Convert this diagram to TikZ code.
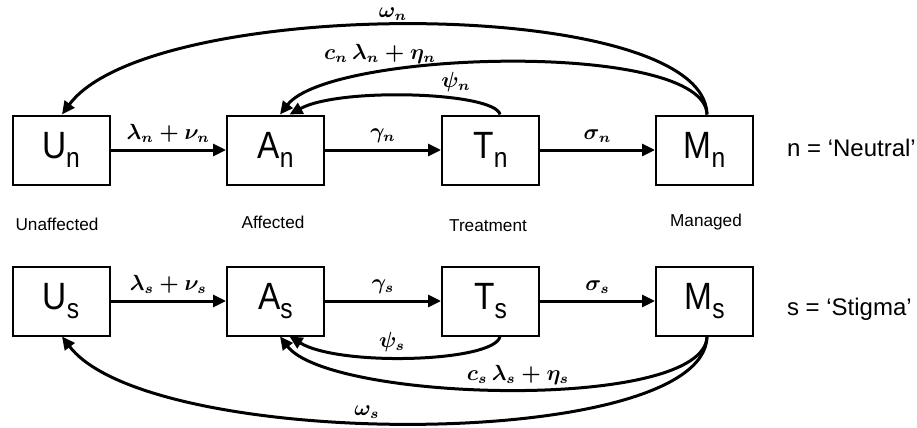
\documentclass[tikz,border=0pt]{standalone}
\usepackage{amsmath,amssymb}
\usepackage{graphicx}
\usepackage{fontspec}
\setmainfont{Liberation Sans}
\usepackage{tikz}
\usetikzlibrary{arrows.meta}
\usetikzlibrary{calc}

\newcommand{\compname}[2]{\scalebox{0.88}[1]{\fontsize{19}{21}\selectfont #1\raisebox{-4.5pt}{\fontsize{14}{16}\selectfont #2}}}

\begin{document}
\begin{tikzpicture}[x=0.5pt, y=-0.5pt,
    box/.style={draw, line width=1pt, minimum width=48.5pt, minimum height=34.5pt, inner sep=0},
    flowarrow/.style={line width=1.5pt, -{Triangle[length=6.5pt, width=6pt]}},
    ratelabel/.style={font=\fontsize{10.5}{12}\selectfont\boldmath, inner sep=3pt},
    stagelabel/.style={font=\fontsize{8.6}{10}\selectfont, anchor=base},
    grouplabel/.style={font=\fontsize{12}{14}\selectfont, anchor=west}]
    \useasboundingbox (0,0) rectangle (917,428);

    \node[box] (Un) at (61,150) {\compname{U}{n}};
    \node[box] (An) at (275.5,150) {\compname{A}{n}};
    \node[box] (Tn) at (490.5,150) {\compname{T}{n}};
    \node[box] (Mn) at (704.5,150) {\compname{M}{n}};
    \node[grouplabel] (neutral) at (780,148) {n = ‘Neutral’};

    \node[stagelabel] (unaff) at (57,230) {Unaffected};
    \node[stagelabel] (aff) at (273,228) {Affected};
    \node[stagelabel] (treat) at (488,231) {Treatment};
    \node[stagelabel] (manag) at (706,226) {Managed};

    \node[box] (Us) at (61,301) {\compname{U}{s}};
    \node[box] (As) at (275.5,301) {\compname{A}{s}};
    \node[box] (Ts) at (490.5,301) {\compname{T}{s}};
    \node[box] (Ms) at (704.5,301) {\compname{M}{s}};
    \node[grouplabel] (stigma) at (780,309) {s = ‘Stigma’};

    \draw[flowarrow] (Un) -- node[ratelabel, above] (lnun) {$\lambda_n + \nu_n$} (An);
    \draw[flowarrow] (An) -- node[ratelabel, above] (gn) {$\gamma_n$} (Tn);
    \draw[flowarrow] (Tn) -- node[ratelabel, above] (sn) {$\sigma_n$} (Mn);

    \draw[flowarrow] (Us) -- node[ratelabel, above] (lnus) {$\lambda_s + \nu_s$} (As);
    \draw[flowarrow] (As) -- node[ratelabel, above] (gs) {$\gamma_s$} (Ts);
    \draw[flowarrow] (Ts) -- node[ratelabel, above] (ss) {$\sigma_s$} (Ms);

    \draw[flowarrow] ([xshift=1.25pt]Mn.north) .. controls (705,-5) and (150,-5) .. ([xshift=0.5pt]Un.north);
    \draw[flowarrow] ([xshift=1.25pt]Mn.north) .. controls (705,40) and (330,50) .. ([xshift=2.25pt]An.north);
    \draw[flowarrow] ([xshift=4.75pt]Tn.north) .. controls (495,92) and (340,87) .. ([xshift=7pt]An.north);
    \node[ratelabel] (wn) at (393,14) {$\omega_n$};
    \node[ratelabel] (cn) at (380,54) {$c_n\,\lambda_n + \eta_n$};
    \node[ratelabel] (pn) at (456,82) {$\psi_n$};

    \draw[flowarrow] ([xshift=1.25pt]Ms.south) .. controls (705,452) and (150,452) .. ([xshift=0.5pt]Us.south);
    \draw[flowarrow] ([xshift=1.25pt]Ms.south) .. controls (705,412) and (330,402) .. ([xshift=2.25pt]As.south);
    \draw[flowarrow] ([xshift=4.75pt]Ts.south) .. controls (495,362) and (340,367) .. ([xshift=7pt]As.south);
    \node[ratelabel] (ws) at (367,412) {$\omega_s$};
    \node[ratelabel] (cs) at (518,375) {$c_s\,\lambda_s + \eta_s$};
    \node[ratelabel] (ps) at (392,342) {$\psi_s$};
\end{tikzpicture}
\end{document}
